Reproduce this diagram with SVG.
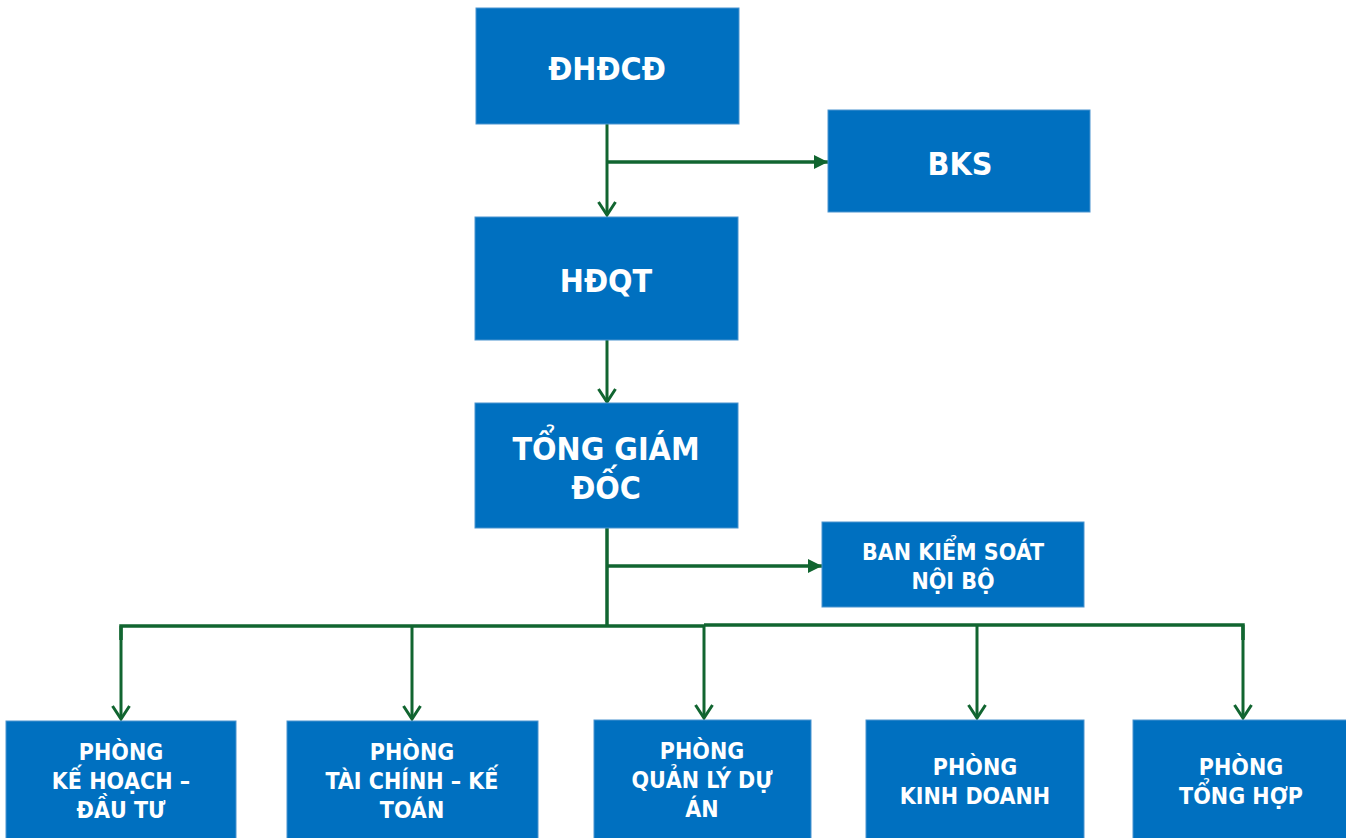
<svg xmlns="http://www.w3.org/2000/svg" width="1346" height="838" viewBox="0 0 1346 838">
<style>
.box{fill:#0070C0;stroke:#4a94cf;stroke-width:1}
.t{fill:#fff;font-family:"DejaVu Sans Condensed","DejaVu Sans",sans-serif;font-weight:bold;text-anchor:middle}
.big{font-size:32px}
.sm{font-size:23px}
.ln{fill:none;stroke:#116530;stroke-width:3.5}
.dn{fill:none;stroke:#116530;stroke-width:3}
</style>
<defs>
<marker id="open" viewBox="0 0 20 20" refX="18" refY="10" markerWidth="20" markerHeight="20" markerUnits="userSpaceOnUse" orient="auto">
<path d="M5,1.5 L18,10 L5,18.5" fill="none" stroke="#116530" stroke-width="3"/>
</marker>
<marker id="fill" viewBox="0 0 14 14" refX="14" refY="7" markerWidth="14" markerHeight="14" markerUnits="userSpaceOnUse" orient="auto">
<path d="M0,0 L14,7 L0,14 Z" fill="#116530"/>
</marker>
</defs>
<g id="connectors">
<line class="dn" x1="607" y1="124" x2="607" y2="215" marker-end="url(#open)"/>
<line class="ln" x1="607" y1="162" x2="828" y2="162" marker-end="url(#fill)"/>
<line class="dn" x1="607" y1="340" x2="607" y2="402" marker-end="url(#open)"/>
<line class="ln" x1="607" y1="528" x2="607" y2="626"/>
<line class="ln" x1="607" y1="566" x2="822" y2="566" marker-end="url(#fill)"/>
<polyline class="ln" points="121,640 121,626 704,626"/>
<polyline class="ln" points="704,625 1243,625 1243,640"/>
<line class="dn" x1="121" y1="626" x2="121" y2="719" marker-end="url(#open)"/>
<line class="dn" x1="412" y1="626" x2="412" y2="719" marker-end="url(#open)"/>
<line class="dn" x1="704" y1="626" x2="704" y2="718" marker-end="url(#open)"/>
<line class="dn" x1="977" y1="625" x2="977" y2="718" marker-end="url(#open)"/>
<line class="dn" x1="1243" y1="625" x2="1243" y2="718" marker-end="url(#open)"/>
</g>
<g id="dhdcd"><rect class="box" x="476" y="8" width="263" height="116"/><text class="t big" x="607" y="80">ĐHĐCĐ</text></g>
<g id="bks"><rect class="box" x="828" y="110" width="262" height="102"/><text class="t big" x="960" y="175">BKS</text></g>
<g id="hdqt"><rect class="box" x="475" y="217" width="263" height="123"/><text class="t big" x="606" y="292">HĐQT</text></g>
<g id="tgd"><rect class="box" x="475" y="403" width="263" height="125"/><text class="t big" x="606" y="460">TỔNG GIÁM</text><text class="t big" x="606" y="499">ĐỐC</text></g>
<g id="bksnb"><rect class="box" x="822" y="522" width="262" height="85"/><text class="t sm" x="953" y="560">BAN KIỂM SOÁT</text><text class="t sm" x="953" y="589">NỘI BỘ</text></g>
<g id="p1"><rect class="box" x="6" y="721" width="230" height="120"/><text class="t sm" x="121" y="760">PHÒNG</text><text class="t sm" x="121" y="789">KẾ HOẠCH –</text><text class="t sm" x="121" y="818">ĐẦU TƯ</text></g>
<g id="p2"><rect class="box" x="287" y="721" width="251" height="120"/><text class="t sm" x="412" y="760">PHÒNG</text><text class="t sm" x="412" y="789">TÀI CHÍNH – KẾ</text><text class="t sm" x="412" y="818">TOÁN</text></g>
<g id="p3"><rect class="box" x="594" y="720" width="217" height="121"/><text class="t sm" x="702" y="759">PHÒNG</text><text class="t sm" x="702" y="788">QUẢN LÝ DỰ</text><text class="t sm" x="702" y="817">ÁN</text></g>
<g id="p4"><rect class="box" x="866" y="720" width="218" height="121"/><text class="t sm" x="975" y="775">PHÒNG</text><text class="t sm" x="975" y="804">KINH DOANH</text></g>
<g id="p5"><rect class="box" x="1133" y="720" width="216" height="121"/><text class="t sm" x="1241" y="775">PHÒNG</text><text class="t sm" x="1241" y="804">TỔNG HỢP</text></g>
</svg>
